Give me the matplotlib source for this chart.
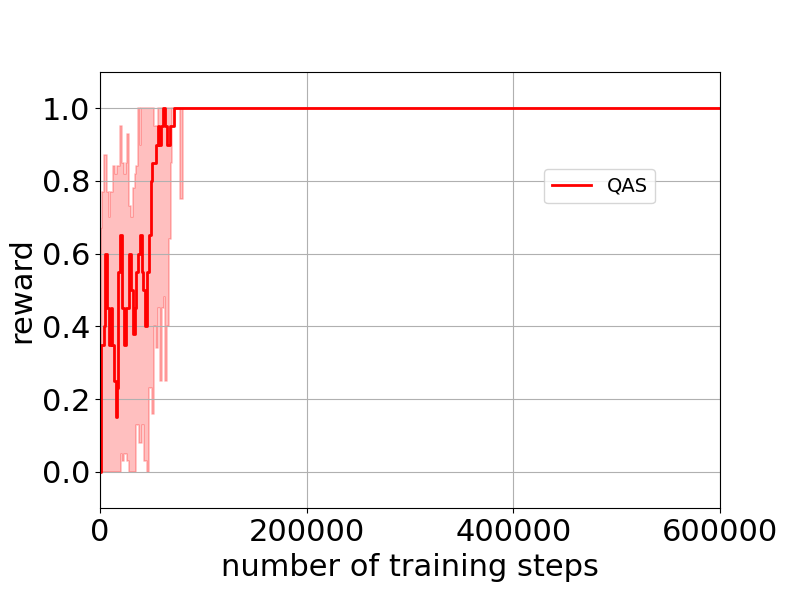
import numpy as np
import matplotlib
matplotlib.use("Agg")
import matplotlib.pyplot as plt

# mean reward curve (steps, value)
mean_steps = [0, 1000, 3500, 5200, 6900, 8600, 10300, 12000, 13800, 15500,
              16200, 17900, 19600, 21300, 23000, 24800, 28200, 30000, 31700,
              33400, 35100, 36800, 38600, 40300, 42000, 43700, 45500, 47200,
              48900, 50600, 54000, 55800, 57500, 59200, 61000, 62700, 64400,
              67800, 71300, 600000]
mean_vals = [0.0, 0.35, 0.40, 0.60, 0.45, 0.35, 0.45, 0.35, 0.25, 0.15,
             0.23, 0.55, 0.65, 0.45, 0.35, 0.45, 0.60, 0.50, 0.38,
             0.45, 0.55, 0.60, 0.65, 0.55, 0.50, 0.40, 0.55, 0.65,
             0.80, 0.85, 0.90, 0.95, 0.90, 0.95, 1.0, 0.95, 0.90,
             0.95, 1.0, 1.0]

# band: upper bound
upper_steps = [0, 1000, 2000, 4000, 6500, 8500, 10000, 12500, 14500, 16000,
               19000, 21000, 23000, 25000, 26500, 28200, 30000, 32000, 33500,
               35000, 36800, 38500, 40000, 52000, 56000, 600000]
upper_vals = [0.0, 0.67, 0.77, 0.87, 0.77, 0.70, 0.77, 0.84, 0.82, 0.84,
              0.95, 0.85, 0.82, 0.85, 0.93, 0.73, 0.70, 0.78, 0.82,
              0.84, 1.0, 0.90, 1.0, 0.95, 1.0, 1.0]

# band: lower bound
lower_steps = [0, 20000, 21500, 23000, 26000, 28000, 35100, 37500, 40300,
               43000, 45300, 47000, 50000, 52500, 54500, 56500, 58200, 60000,
               61500, 63000, 64800, 66500, 68500, 70000, 77500, 80500, 600000]
lower_vals = [0.0, 0.05, 0.03, 0.05, 0.03, 0.0, 0.13, 0.08, 0.13,
              0.03, 0.0, 0.23, 0.16, 0.40, 0.34, 0.45, 0.25, 0.45,
              0.48, 0.25, 0.40, 0.64, 0.85, 1.0, 0.75, 1.0, 1.0]


def step_lookup(xs, steps, vals):
    # value held until the next step (post style)
    idx = np.searchsorted(steps, xs, side="right") - 1
    return np.asarray(vals)[idx]


grid = np.union1d(upper_steps, lower_steps)
up = step_lookup(grid, upper_steps, upper_vals)
lo = step_lookup(grid, lower_steps, lower_vals)

fig, ax = plt.subplots(figsize=(8, 5.98), dpi=100)
plt.subplots_adjust(left=0.125, right=0.9, top=0.88, bottom=0.15)

ax.fill_between(grid, lo, up, step="post", color="red", alpha=0.25,
                linewidth=1.2)
ax.plot(mean_steps, mean_vals, color="red", linewidth=2,
        drawstyle="steps-post", label="QAS")

ax.set_xlim(0, 600000)
ax.set_ylim(-0.1, 1.1)
ax.set_xticks([0, 200000, 400000, 600000])
ax.set_yticks([0.0, 0.2, 0.4, 0.6, 0.8, 1.0])
ax.tick_params(labelsize=22)
ax.set_xlabel("number of training steps", fontsize=22)
ax.set_ylabel("reward", fontsize=22)
ax.grid(True)
ax.legend(loc="center", bbox_to_anchor=(0.806, 0.738), fontsize=14)

fig.savefig("out.png")
